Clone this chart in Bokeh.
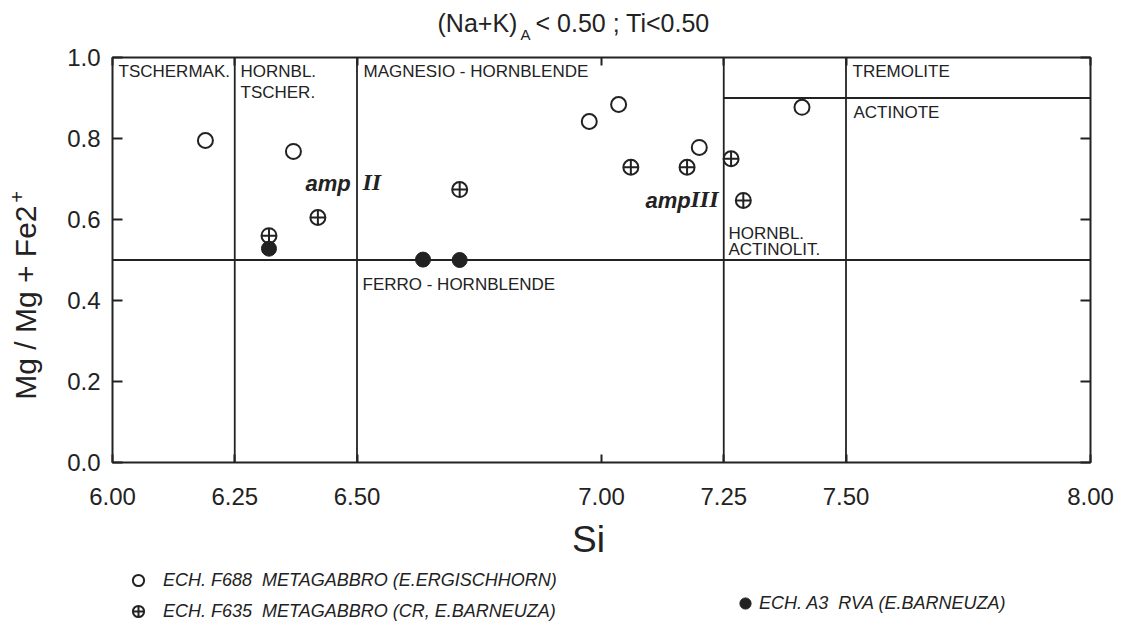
from bokeh.plotting import figure
from bokeh.layouts import column, row
from bokeh.models import (ColumnDataSource, Label, LinearAxis, FixedTicker, NumeralTickFormatter,
                          CustomJSTickFormatter, Range1d, Legend, LegendItem)
from bokeh.embed import file_html
from bokeh.resources import INLINE
import math

# ---------------- data ----------------
# ECH. F688 metagabbro (open circles)
f688_si = [6.19, 6.37, 6.975, 7.035, 7.20, 7.41]
f688_mg = [0.795, 0.768, 0.842, 0.884, 0.778, 0.877]
# ECH. F635 metagabbro (crossed circles)
f635_si = [6.32, 6.42, 6.71, 7.06, 7.175, 7.265, 7.29]
f635_mg = [0.560, 0.605, 0.674, 0.729, 0.729, 0.750, 0.647]
# ECH. A3 RVA (filled circles)
a3_si = [6.32, 6.635, 6.71]
a3_mg = [0.528, 0.501, 0.500]

# classification boundaries
si_boundaries = [6.25, 6.50, 7.25, 7.50]
mg_boundary = 0.50
tremolite_boundary = 0.90
tremolite_si_from = 7.25

x_ticks = [6.00, 6.25, 6.50, 7.00, 7.25, 7.50, 8.00]
y_ticks = [0.0, 0.2, 0.4, 0.6, 0.8, 1.0]

legend_labels = ["ECH. F688  METAGABBRO (E.ERGISCHHORN)",
                 "ECH. F635  METAGABBRO (CR, E.BARNEUZA)",
                 "ECH. A3  RVA (E.BARNEUZA)"]

INK = "#222222"
FONT = "Liberation Sans"

W, H = 1115, 630
TOP_H = 43          # title strip
YLAB_W = 62         # y-label strip
MID_H = 471         # main plot height
BOT_H = H - TOP_H - MID_H


def strip(w, h):
    """Blank figure whose data coordinates equal its pixels (y down)."""
    f = figure(width=w, height=h, x_range=Range1d(0, w), y_range=Range1d(h, 0), title=None,
               output_backend="svg", toolbar_location=None, x_axis_type=None, y_axis_type=None,
               min_border=0, outline_line_color=None)
    f.grid.visible = False
    f.background_fill_color = "white"
    f.border_fill_color = "white"
    return f


def lab(f, text, px, py, size, style="normal", align="left", baseline="top", font=FONT, angle=0,
        line_height=1.2):
    f.add_layout(Label(x=px, y=py, text=text, text_font=font, text_font_size=f"{size}px",
                       text_font_style=style, text_align=align, text_baseline=baseline,
                       text_color=INK, angle=angle, text_line_height=line_height))


# ---------------- main figure ----------------
p = figure(width=W - YLAB_W, height=MID_H, output_backend="svg", toolbar_location=None,
           x_range=Range1d(6.0, 8.0), y_range=Range1d(0.0, 1.0), title=None,
           x_axis_type=None, y_axis_type=None,
           min_border_left=50, min_border_right=25, min_border_top=57 - TOP_H,
           min_border_bottom=MID_H - 405 - (57 - TOP_H),
           frame_width=978, frame_height=405)
p.grid.visible = False
p.outline_line_color = INK
p.outline_line_width = 2
p.background_fill_color = "white"
p.border_fill_color = "white"

xb = LinearAxis(ticker=FixedTicker(ticks=x_ticks), formatter=NumeralTickFormatter(format="0.00"))
yl = LinearAxis(ticker=FixedTicker(ticks=y_ticks), formatter=NumeralTickFormatter(format="0.0"))
xt = LinearAxis(ticker=FixedTicker(ticks=x_ticks), formatter=CustomJSTickFormatter(code="return ''"))
yr = LinearAxis(ticker=FixedTicker(ticks=y_ticks), formatter=CustomJSTickFormatter(code="return ''"))
for ax in (xb, yl, xt, yr):
    ax.axis_line_color = None
    ax.major_tick_line_color = INK
    ax.major_tick_line_width = 2
    ax.major_tick_out = 0
    ax.minor_tick_line_color = None
    ax.major_label_text_font = FONT
    ax.major_label_text_color = INK
    ax.major_label_text_font_size = "24px"
for ax in (xt, yr):
    ax.major_label_text_font_size = "0px"
    ax.major_label_standoff = 0
for ax in (xb, xt):
    ax.major_tick_in = 8
for ax in (yl, yr):
    ax.major_tick_in = 10
xb.major_label_standoff = 25
yl.major_label_standoff = 12
p.add_layout(xb, "below")
p.add_layout(yl, "left")
p.add_layout(xt, "above")
p.add_layout(yr, "right")

# boundaries
vsrc = ColumnDataSource(dict(x0=si_boundaries, x1=si_boundaries,
                             y0=[0.0] * len(si_boundaries), y1=[1.0] * len(si_boundaries)))
p.segment("x0", "y0", "x1", "y1", source=vsrc, line_color=INK, line_width=1.8)
hsrc = ColumnDataSource(dict(x0=[6.0, tremolite_si_from], x1=[8.0, 8.0],
                             y0=[mg_boundary, tremolite_boundary], y1=[mg_boundary, tremolite_boundary]))
p.segment("x0", "y0", "x1", "y1", source=hsrc, line_color=INK, line_width=1.8)

# points
MK_OPEN = dict(marker="circle", size=15, line_color=INK, line_width=2, fill_color="white")
MK_CROSS = dict(marker="circle_cross", size=15, line_color=INK, line_width=2, fill_color="white")
MK_FILL = dict(marker="circle", size=15, line_color=INK, line_width=1, fill_color=INK)
p.scatter(f688_si, f688_mg, **MK_OPEN)
p.scatter(f635_si, f635_mg, **MK_CROSS)
p.scatter(a3_si, a3_mg, **MK_FILL)

# image pixel -> data coordinate (text placement inside the frame)
X0, X1, Y0, Y1 = 112, 1090, 462, 57
def dx(px):
    return 6.0 + (px - X0) * 2.0 / (X1 - X0)
def dy(py):
    return (Y0 - py) / (Y0 - Y1)

def plab(text, px, py, size, **kw):
    lab(p, text, dx(px), dy(py), size, **kw)

plab("TSCHERMAK.", 118, 61, 17)
plab("HORNBL.\nTSCHER.", 240, 61, 17, line_height=1.15)
plab("MAGNESIO - HORNBLENDE", 363, 61, 17)
plab("TREMOLITE", 852, 61, 17)
plab("ACTINOTE", 853, 102, 17)
plab("HORNBL.\nACTINOLIT.", 728, 223, 17, line_height=0.88)
plab("FERRO - HORNBLENDE", 362, 274, 17)

plab("amp", 305, 170, 22, style="bold italic")
plab("II", 362, 168, 24, style="bold italic", font="Liberation Serif")
plab("amp", 645, 187, 22, style="bold italic")
plab("III", 690, 185, 24, style="bold italic", font="Liberation Serif")

# ---------------- title strip ----------------
t = strip(W, TOP_H)
lab(t, "(Na+K)", 437, 8, 25)
lab(t, "A", 520, TOP_H - 0.5, 15, baseline="bottom")
lab(t, "< 0.50 ; Ti<0.50", 535, 8, 25)

# ---------------- y-label strip ----------------
yf = strip(YLAB_W, MID_H)
lab(yf, "Mg / Mg + Fe2", 25, 328 - TOP_H, 30, align="center", baseline="middle", angle=math.pi / 2)
lab(yf, "+", 16, 205 - TOP_H, 20, align="center", baseline="middle", angle=math.pi / 2)

# ---------------- bottom strip: x title + legend ----------------
b = strip(W, BOT_H)
OY = TOP_H + MID_H
lab(b, "Si", 588, 518 - OY, 37, align="center")
nan = float("nan")
g1 = b.scatter([nan], [nan], **MK_OPEN)
g2 = b.scatter([nan], [nan], **MK_CROSS)
g3 = b.scatter([nan], [nan], **MK_FILL)
leg1 = Legend(items=[LegendItem(label=legend_labels[0], renderers=[g1]),
                     LegendItem(label=legend_labels[1], renderers=[g2])],
              location=(124, H - 625))
leg2 = Legend(items=[LegendItem(label=legend_labels[2], renderers=[g3])],
              location=(731, H - 617))
for lg, st in ((leg1, 11), (leg2, 0)):
    lg.glyph_width = 28
    lg.glyph_height = 28
    lg.label_height = 28
    lg.spacing = 3
    lg.padding = 0
    lg.margin = 0
    lg.label_standoff = st
    lg.border_line_color = None
    lg.background_fill_alpha = 0
    lg.label_text_font = FONT
    lg.label_text_font_style = "italic"
    lg.label_text_font_size = "18px"
    lg.label_text_color = INK
    b.add_layout(lg)

layout = column(t, row(yf, p), b)
open("out.html", "w").write(file_html(layout, INLINE))
